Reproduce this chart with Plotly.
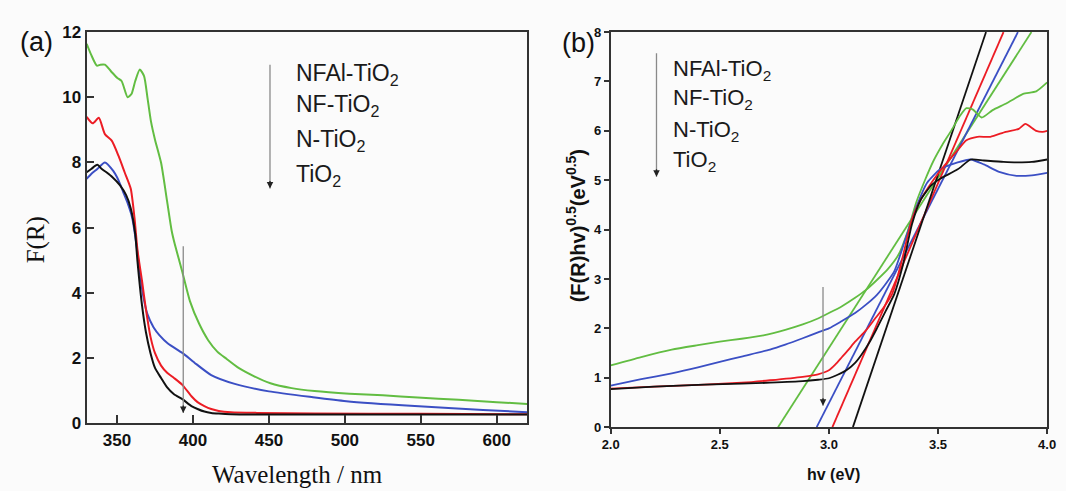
import plotly.graph_objects as go

# ---------------- Panel (a): F(R) vs wavelength ----------------
wl_nfal = [330, 333, 336.7, 339, 342, 346, 350, 353, 357, 359.5, 362, 365, 367.8, 370, 372.3, 375, 379, 383, 386,
           388, 393, 398, 404, 410, 416, 422, 430, 440, 451, 465, 480, 503, 525, 548, 575, 600, 620]
fr_nfal = [11.64, 11.3, 10.97, 11.0, 11.0, 10.8, 10.6, 10.5, 10.0, 10.1, 10.5, 10.85, 10.65, 10.0, 9.27, 8.7, 7.99,
           6.8, 5.9, 5.5, 4.64, 3.75, 3.06, 2.55, 2.2, 1.98, 1.7, 1.45, 1.23, 1.08, 0.99, 0.91, 0.86, 0.79, 0.72, 0.65, 0.59]

wl_nf = [330, 333, 337, 342, 347.5, 351, 354, 357, 360, 363, 364, 367.5, 370, 374, 378, 383.5, 393, 401, 412, 427.5,
         450, 479, 501, 546, 591, 620]
fr_nf = [7.5, 7.65, 7.8, 8.0, 7.74, 7.45, 7.1, 6.75, 6.3, 5.4, 5.0, 3.84, 3.35, 2.95, 2.7, 2.45, 2.16, 1.86, 1.48, 1.21,
         0.98, 0.8, 0.68, 0.53, 0.41, 0.34]

wl_n = [330, 334, 338, 342, 346.5, 351, 355, 359, 361.5, 363.5, 366.5, 369, 372, 375, 379, 383, 387.5, 393, 399, 403,
        407.5, 412, 417, 425, 442, 480, 550, 620]
fr_n = [9.4, 9.2, 9.37, 8.87, 8.67, 8.2, 7.7, 7.2, 6.3, 5.3, 4.35, 3.5, 2.66, 2.15, 1.77, 1.55, 1.39, 1.18, 0.83, 0.65,
        0.53, 0.44, 0.38, 0.34, 0.32, 0.3, 0.29, 0.28]

wl_ti = [330, 333, 337, 340, 343, 347, 352, 356, 359, 362, 363.4, 366.5, 369, 372, 375, 379, 383, 387.5, 393, 399, 403,
         407.5, 412, 417, 425, 450, 500, 620]
fr_ti = [7.7, 7.8, 7.93, 7.8, 7.7, 7.55, 7.3, 7.0, 6.6, 5.8, 5.0, 3.6, 2.8, 2.16, 1.7, 1.39, 1.1, 0.89, 0.74, 0.53, 0.44,
         0.36, 0.32, 0.3, 0.28, 0.27, 0.27, 0.27]

# ---------------- Panel (b): Tauc plot ----------------
hv_nfal = [2.0, 2.14, 2.28, 2.4, 2.5, 2.6, 2.7, 2.8, 2.88, 2.95, 3.0, 3.06, 3.12, 3.17, 3.22, 3.27, 3.32, 3.36, 3.4,
           3.44, 3.48, 3.52, 3.56, 3.6, 3.63, 3.66, 3.7, 3.75, 3.81, 3.85, 3.89, 3.95, 4.0]
tau_nfal = [1.25, 1.42, 1.57, 1.66, 1.73, 1.79, 1.86, 1.97, 2.08, 2.2, 2.31, 2.45, 2.62, 2.78, 2.98, 3.2, 3.5, 3.95,
            4.55, 5.0, 5.4, 5.72, 6.0, 6.3, 6.46, 6.43, 6.27, 6.42, 6.55, 6.65, 6.75, 6.8, 6.98]

hv_nf = [2.0, 2.14, 2.28, 2.4, 2.5, 2.6, 2.73, 2.8, 2.88, 2.95, 3.0, 3.06, 3.12, 3.17, 3.22, 3.26, 3.3, 3.35, 3.4, 3.45,
         3.51, 3.59, 3.65, 3.71, 3.78, 3.86, 3.93, 4.0]
tau_nf = [0.84, 0.97, 1.09, 1.21, 1.32, 1.43, 1.57, 1.67, 1.8, 1.92, 2.0, 2.15, 2.31, 2.48, 2.68, 2.9, 3.16, 3.8, 4.45,
          4.95, 5.22, 5.36, 5.42, 5.32, 5.17, 5.09, 5.1, 5.15]

hv_n = [2.0, 2.2, 2.43, 2.6, 2.73, 2.88, 2.95, 3.0, 3.03, 3.06, 3.09, 3.12, 3.17, 3.21, 3.25, 3.29, 3.33, 3.38, 3.42,
        3.47, 3.53, 3.59, 3.63, 3.68, 3.74, 3.81, 3.87, 3.9, 3.95, 3.98, 4.0]
tau_n = [0.78, 0.82, 0.86, 0.9, 0.95, 1.02, 1.07, 1.15, 1.27, 1.42, 1.57, 1.73, 1.96, 2.19, 2.42, 2.7, 3.3, 4.2, 4.6,
         4.95, 5.3, 5.61, 5.81, 5.88, 5.88, 5.98, 6.04, 6.14, 6.0, 5.98, 6.0]

hv_ti = [2.0, 2.2, 2.43, 2.6, 2.73, 2.88, 2.95, 3.0, 3.04, 3.08, 3.12, 3.15, 3.19, 3.22, 3.26, 3.3, 3.34, 3.38, 3.42,
         3.47, 3.51, 3.59, 3.65, 3.71, 3.8, 3.86, 3.93, 4.0]
tau_ti = [0.77, 0.82, 0.86, 0.88, 0.9, 0.93, 0.96, 0.99, 1.06, 1.15, 1.3, 1.47, 1.75, 2.0, 2.35, 2.7, 3.3, 4.1, 4.6,
          4.9, 5.03, 5.22, 5.42, 5.4, 5.37, 5.36, 5.37, 5.42]

# tangent (band-gap) lines: x where they cross 0 and x where they reach the top (8)
fit_x0 = {"NFAl": 2.767, "NF": 2.944, "N": 3.016, "Ti": 3.11}
fit_x1 = {"NFAl": 3.928, "NF": 3.866, "N": 3.80, "Ti": 3.72}
fit_y = [0, 8]

labels = ["NFAl-TiO<sub>2</sub>", "NF-TiO<sub>2</sub>", "N-TiO<sub>2</sub>", "TiO<sub>2</sub>"]

GREEN = "#62bd42"
BLUE = "#3b4fc4"
RED = "#ec1c24"
BLACK = "#111111"
BG = "#fbfbfb"

fig = go.Figure()

series_a = [(wl_nfal, fr_nfal, GREEN), (wl_nf, fr_nf, BLUE), (wl_n, fr_n, RED), (wl_ti, fr_ti, BLACK)]
for x, y, c in series_a:
    fig.add_trace(go.Scatter(x=x, y=y, mode="lines", line=dict(color=c, width=2, shape="spline", smoothing=0.6),
                             xaxis="x", yaxis="y", showlegend=False, hoverinfo="skip"))

series_b = [("NFAl", hv_nfal, tau_nfal, GREEN), ("NF", hv_nf, tau_nf, BLUE), ("N", hv_n, tau_n, RED),
            ("Ti", hv_ti, tau_ti, BLACK)]
for key, x, y, c in series_b:
    fig.add_trace(go.Scatter(x=[fit_x0[key], fit_x1[key]], y=fit_y, mode="lines", line=dict(color=c, width=1.8),
                             xaxis="x2", yaxis="y2", showlegend=False, hoverinfo="skip"))
for key, x, y, c in series_b:
    fig.add_trace(go.Scatter(x=x, y=y, mode="lines", line=dict(color=c, width=1.8, shape="spline", smoothing=0.6),
                             xaxis="x2", yaxis="y2", showlegend=False, hoverinfo="skip"))

AX = "#333333"
tick_a = dict(family="Liberation Sans", size=17, color="#111", weight="bold")
tick_b = dict(family="Liberation Sans", size=13, color="#111", weight="bold")

fig.update_layout(
    width=1066, height=491,
    margin=dict(l=0, r=0, t=0, b=0),
    paper_bgcolor=BG, plot_bgcolor=BG,
    xaxis=dict(domain=[0.0741, 0.4944], range=[330, 620], tickvals=[350, 400, 450, 500, 550, 600],
               ticks="inside", ticklen=8, tickwidth=1.5, tickcolor=AX, showline=True, linecolor=AX, linewidth=2,
               mirror=True, showgrid=False, zeroline=False, tickfont=tick_a, anchor="y"),
    yaxis=dict(domain=[0.1222, 0.9511], range=[0, 12], tickvals=[0, 2, 4, 6, 8, 10, 12],
               ticks="inside", ticklen=7, tickwidth=1.5, tickcolor=AX, showline=True, linecolor=AX, linewidth=2,
               mirror=True, showgrid=False, zeroline=False, tickfont=tick_a, anchor="x"),
    xaxis2=dict(domain=[0.5741, 0.9906], range=[2, 4], tickvals=[2.0, 2.5, 3.0, 3.5, 4.0], tickformat=".1f",
                ticks="outside", ticklen=5, tickwidth=1.5, tickcolor=AX, showline=True, linecolor=AX, linewidth=1.5,
                mirror=True, showgrid=False, zeroline=False, tickfont=tick_b, anchor="y2"),
    yaxis2=dict(domain=[0.1141, 0.9511], range=[0, 8], tickvals=[0, 1, 2, 3, 4, 5, 6, 7, 8],
                ticks="outside", ticklen=5, tickwidth=1.5, tickcolor=AX, showline=True, linecolor=AX, linewidth=1.5,
                mirror=True, showgrid=False, zeroline=False, tickfont=tick_b, anchor="x2"),
)


def paper_text(text, x, y, font, angle=0):
    return dict(text=text, x=x, y=y, xref="paper", yref="paper", xanchor="center", yanchor="middle",
                showarrow=False, textangle=angle, font=font)


ann = []
ann.append(paper_text("(a)", 0.026, 0.931, dict(family="Liberation Sans", size=27, color="#111")))
ann.append(paper_text("(b)", 0.543, 0.929, dict(family="Liberation Sans", size=27, color="#111")))
ann.append(paper_text("Wavelength / nm", 0.2749, 0.0143, dict(family="Liberation Serif", size=25, color="#111")))
ann.append(paper_text("F(R)", 0.0253, 0.511, dict(family="Liberation Serif", size=25, color="#111"), -90))
ann.append(paper_text("(F(R)hv)<sup>0.5</sup>(eV<sup>0.5</sup>)", 0.5403, 0.54,
                      dict(family="Liberation Sans", size=20, color="#111", weight="bold"), -90))
ann.append(paper_text("hv (eV)", 0.787, 0.0143, dict(family="Liberation Sans", size=16, color="#111", weight="bold")))

# legend-like labels panel (a)
leg_a_y = [10.71, 9.76, 8.67, 7.61]
for t, yy in zip(labels, leg_a_y):
    ann.append(dict(text=t, x=466.2, y=yy, xref="x", yref="y", xanchor="left", yanchor="middle", showarrow=False,
                    font=dict(family="Liberation Sans", size=23, color="#1a1a1a")))
leg_b_y = [7.24, 6.64, 5.99, 5.39]
for t, yy in zip(labels, leg_b_y):
    ann.append(dict(text=t, x=2.277, y=yy, xref="x2", yref="y2", xanchor="left", yanchor="middle", showarrow=False,
                    font=dict(family="Liberation Sans", size=22, color="#1a1a1a")))

# arrows: gray shaft (shape) + dark arrowhead (annotation)
arrows = [("x", "y", 450.7, 11.0, 7.2), ("x", "y", 393.6, 5.43, 0.32),
          ("x2", "y2", 2.21, 7.57, 5.07), ("x2", "y2", 2.973, 2.84, 0.435)]
shapes = []
for xr, yr, xx, y0, y1 in arrows:
    shapes.append(dict(type="line", xref=xr, yref=yr, x0=xx, x1=xx, y0=y0, y1=y1,
                       line=dict(color="#8a8a8a", width=1.3)))
    ann.append(dict(x=xx, y=y1, xref=xr, yref=yr, ax=0, ay=-9, showarrow=True, arrowhead=2, arrowsize=1,
                    arrowwidth=1.3, arrowcolor="#222", text=""))

fig.update_layout(annotations=ann, shapes=shapes)

fig.write_html("out.html")
